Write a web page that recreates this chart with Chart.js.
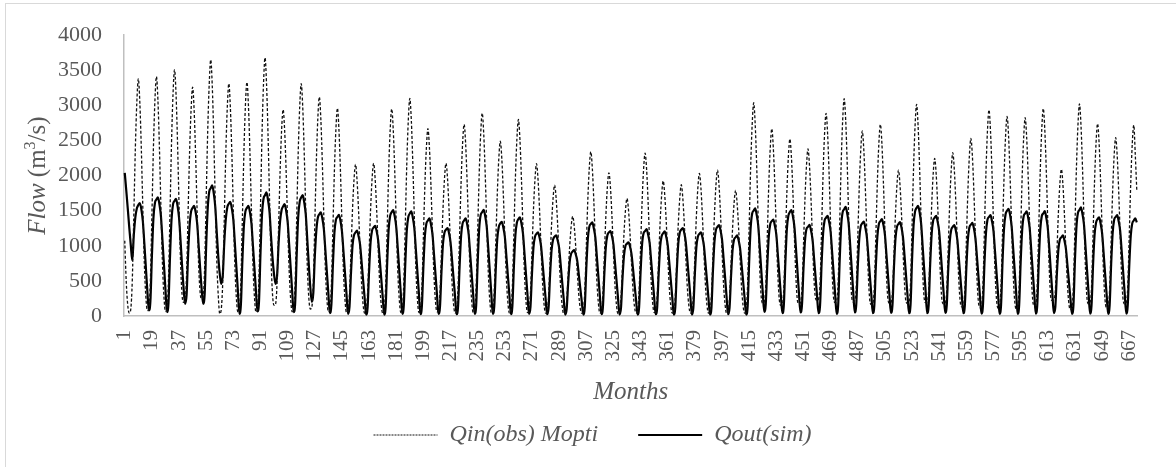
<!DOCTYPE html>
<html>
<head>
<meta charset="utf-8">
<title>Qin(obs) Mopti / Qout(sim)</title>
<script src="https://cdn.jsdelivr.net/npm/chart.js@4/dist/chart.umd.min.js"></script>
<style>
  html, body { margin: 0; padding: 0; background: #fff; overflow: hidden; }
  #wrap { position: relative; width: 1176px; height: 467px; }
  #frame { position: absolute; left: 5px; top: 3px; width: 1200px; height: 500px; border: 1px solid #d9d9d9; pointer-events: none; }
  canvas { position: absolute; left: 0; top: 0; }
</style>
</head>
<body>
<div id="wrap">
  <canvas id="flowChart" width="1176" height="467"></canvas>
  <div id="frame"></div>
</div>
<script>
// monthly flows (m3/s), one row per year, Jan..Dec
const qinObsMopti = [
  [1072,480,150,40,100,510,1420,2370,3040,3380,3040,2370],
  [1520,740,270,78,100,510,1430,2390,3070,3410,3070,2390],
  [1530,750,270,64,105,530,1470,2460,3160,3510,3160,2460],
  [1580,770,300,196,220,600,1480,2340,2950,3260,2930,2280],
  [1470,720,330,244,270,720,1680,2630,3300,3650,3290,2560],
  [1640,800,290,31,100,500,1390,2320,2980,3310,2980,2320],
  [1490,730,260,54,100,500,1400,2330,3000,3330,3000,2330],
  [1500,730,270,54,110,550,1550,2580,3310,3680,3310,2580],
  [1660,810,300,150,170,480,1260,2060,2650,2940,2650,2060],
  [1320,650,240,60,100,500,1390,2320,2980,3310,2980,2320],
  [1490,730,270,100,120,470,1310,2180,2810,3120,2810,2180],
  [1400,690,250,60,90,440,1240,2070,2660,2960,2660,2070],
  [1330,650,240,50,70,320,910,1510,1940,2160,1940,1510],
  [970,480,170,40,65,330,910,1520,1960,2175,1960,1520],
  [980,480,170,40,90,440,1240,2070,2660,2950,2660,2070],
  [1330,650,240,50,90,470,1300,2170,2790,3100,2790,2170],
  [1400,680,250,50,80,400,1120,1870,2400,2670,2400,1870],
  [1200,590,210,60,70,330,910,1520,1960,2175,1960,1520],
  [980,480,170,40,80,410,1150,1910,2460,2730,2460,1910],
  [1230,600,220,50,90,430,1210,2020,2600,2890,2600,2020],
  [1300,640,230,50,75,370,1050,1740,2240,2490,2240,1740],
  [1120,550,200,40,85,420,1180,1960,2520,2800,2520,1960],
  [1260,620,220,50,65,330,910,1520,1950,2170,1950,1520],
  [980,480,170,40,55,280,780,1310,1680,1865,1680,1310],
  [840,410,150,30,45,210,600,990,1280,1420,1280,990],
  [640,310,110,40,70,350,980,1640,2110,2340,2110,1640],
  [1050,510,190,40,60,310,860,1430,1840,2040,1840,1430],
  [920,450,160,30,50,250,700,1170,1510,1675,1510,1170],
  [750,370,130,40,70,350,970,1620,2090,2320,2090,1620],
  [1040,510,190,50,60,290,810,1350,1730,1925,1730,1350],
  [870,420,150,40,55,280,790,1310,1680,1870,1680,1310],
  [840,410,150,40,60,300,850,1420,1830,2030,1830,1420],
  [910,450,160,40,60,310,870,1450,1870,2077,1870,1450],
  [930,460,170,40,55,270,750,1250,1610,1790,1610,1250],
  [810,390,140,40,90,460,1280,2130,2730,3038,2730,2130],
  [1370,670,270,180,200,420,1120,1870,2400,2668,2400,1870],
  [1200,590,230,150,170,400,1060,1760,2270,2520,2270,1760],
  [1130,550,220,170,190,380,1000,1670,2140,2380,2140,1670],
  [1070,520,250,220,240,460,1210,2020,2600,2886,2600,2020],
  [1300,630,250,190,210,480,1300,2170,2790,3095,2790,2170],
  [1390,680,270,200,220,420,1110,1840,2370,2635,2370,1840],
  [1190,580,220,160,180,420,1150,1910,2460,2730,2460,1910],
  [1230,600,240,180,190,340,870,1450,1870,2077,1870,1450],
  [930,460,200,180,200,470,1270,2110,2710,3015,2710,2110],
  [1360,660,260,190,200,360,940,1570,2020,2245,2020,1570],
  [1010,490,200,170,180,370,980,1630,2090,2327,2090,1630],
  [1050,510,190,130,150,380,1060,1770,2280,2531,2280,1770],
  [1140,560,200,120,140,440,1230,2050,2640,2935,2640,2050],
  [1320,650,235,110,130,430,1190,1990,2560,2843,2560,1990],
  [1280,630,230,100,120,420,1190,1980,2540,2825,2540,1980],
  [1270,620,230,140,160,440,1240,2070,2660,2955,2660,2070],
  [1330,650,260,220,230,360,880,1460,1880,2090,1880,1460],
  [940,460,170,90,110,450,1270,2120,2720,3023,2720,2120],
  [1360,670,250,170,190,410,1150,1920,2470,2740,2470,1920],
  [1230,600,220,110,130,380,1070,1780,2290,2540,2290,1780],
  [1140,560,220,170,190,410,1140,1900,2450,2720,2300,1790]
];

const qoutSim = [
  [2040,1790,1530,1260,1010,790,1150,1400,1530,1580,1610,1520],
  [1350,1030,690,350,78,210,850,1390,1610,1660,1690,1590],
  [1420,1080,730,370,55,190,840,1370,1590,1640,1670,1570],
  [1400,1070,720,400,173,300,870,1290,1490,1540,1570,1480],
  [1320,1000,680,380,173,320,1010,1530,1770,1820,1860,1750],
  [1560,1190,850,600,457,580,1050,1380,1550,1600,1627,1530],
  [1370,1040,700,360,30,160,790,1290,1490,1540,1570,1480],
  [1320,1000,680,350,64,200,890,1440,1670,1720,1760,1650],
  [1480,1130,820,590,457,570,1030,1350,1510,1560,1593,1500],
  [1340,1020,690,350,55,190,870,1410,1630,1690,1721,1620],
  [1450,1100,740,420,200,320,840,1210,1400,1450,1475,1390],
  [1240,940,630,320,40,160,720,1180,1370,1410,1442,1360],
  [1210,920,620,320,30,130,610,1000,1150,1190,1215,1140],
  [1020,780,520,270,20,120,640,1050,1220,1260,1285,1210],
  [1080,820,550,280,20,140,750,1240,1430,1480,1508,1420],
  [1270,970,650,330,30,150,740,1220,1410,1460,1489,1400],
  [1250,950,640,330,25,140,700,1140,1320,1360,1390,1310],
  [1170,890,600,310,30,130,630,1030,1190,1230,1252,1180],
  [1050,800,540,280,25,140,700,1140,1320,1360,1390,1310],
  [1170,890,600,310,30,150,760,1240,1440,1480,1513,1420],
  [1270,970,650,330,30,140,670,1100,1270,1320,1342,1260],
  [1130,860,580,300,25,140,700,1150,1330,1380,1404,1320],
  [1180,900,600,310,30,130,600,980,1130,1170,1191,1120],
  [1000,760,510,260,25,120,580,940,1090,1130,1150,1080],
  [970,740,490,250,20,100,470,770,890,920,940,880],
  [790,600,400,210,20,130,670,1090,1270,1310,1333,1250],
  [1120,850,570,290,25,120,610,990,1150,1190,1210,1140],
  [1020,770,520,270,20,110,530,860,1000,1030,1050,990],
  [880,670,450,230,20,120,620,1020,1180,1210,1238,1160],
  [1040,790,530,270,25,120,600,990,1140,1180,1205,1130],
  [1010,770,520,270,20,120,630,1030,1190,1230,1252,1180],
  [1050,800,540,280,20,120,600,980,1130,1170,1190,1120],
  [1000,760,510,260,20,120,650,1060,1230,1270,1295,1220],
  [1090,830,560,280,25,120,570,940,1090,1120,1148,1080],
  [960,730,490,250,20,140,770,1260,1460,1500,1532,1440],
  [1290,980,660,340,60,170,710,1130,1310,1350,1375,1290],
  [1160,880,590,300,40,160,760,1240,1430,1480,1510,1420],
  [1270,970,650,330,50,150,670,1070,1240,1270,1300,1220],
  [1090,830,560,290,40,150,730,1170,1360,1400,1428,1340],
  [1200,910,610,310,30,150,780,1280,1480,1520,1555,1460],
  [1310,1000,670,340,50,160,690,1100,1280,1320,1345,1260],
  [1130,860,580,300,40,150,710,1130,1310,1350,1380,1300],
  [1160,880,590,300,45,150,690,1100,1270,1310,1338,1260],
  [1120,860,580,290,40,160,800,1290,1490,1540,1570,1480],
  [1320,1000,680,350,40,150,730,1170,1360,1400,1428,1340],
  [1200,910,610,310,45,150,670,1060,1230,1270,1295,1220],
  [1090,830,560,290,40,150,680,1090,1260,1300,1326,1250],
  [1110,850,570,290,35,150,740,1180,1370,1410,1437,1350],
  [1210,920,620,320,30,150,780,1250,1450,1500,1527,1440],
  [1280,980,660,340,30,150,760,1220,1420,1460,1492,1400],
  [1250,950,640,330,35,150,760,1230,1420,1460,1494,1400],
  [1250,960,640,330,40,130,590,940,1090,1120,1148,1080],
  [960,730,490,250,30,150,790,1270,1470,1510,1546,1450],
  [1300,990,660,340,35,150,720,1150,1330,1380,1404,1320],
  [1180,900,600,310,30,150,730,1180,1370,1410,1437,1350],
  [1210,920,620,320,35,150,710,1140,1320,1360,1390,1333]
];

const shownMonthTicks = [1,19,37,55,73,91,109,127,145,163,181,199,217,235,253,271,289,307,
  325,343,361,379,397,415,433,451,469,487,505,523,541,559,577,595,613,631,649,667];

const qinSeries = qinObsMopti.flat();
const qoutSeries = qoutSim.flat();
const months = qinSeries.map((v, i) => String(i + 1));

const textGray = '#595959';
const serif = '"Liberation Serif", "Times New Roman", serif';

const axisTitles = {
  id: 'axisTitles',
  afterDraw(chart) {
    const ctx = chart.ctx;
    const area = chart.chartArea;
    ctx.save();
    ctx.fillStyle = textGray;

    ctx.font = 'italic 25px ' + serif;
    ctx.textAlign = 'center';
    ctx.textBaseline = 'middle';
    ctx.fillText('Months', (area.left + area.right) / 2, 392);

    // y title: "Flow" italic, "(m3/s)" upright with superscript
    const parts = [
      { t: 'Flow', f: 'italic 25px ' + serif, dy: 0 },
      { t: ' (m', f: '25px ' + serif, dy: 0 },
      { t: '3', f: '16px ' + serif, dy: -10 },
      { t: '/s)', f: '25px ' + serif, dy: 0 }
    ];
    let total = 0;
    parts.forEach(p => { ctx.font = p.f; p.w = ctx.measureText(p.t).width; total += p.w; });
    ctx.translate(37, (area.top + area.bottom) / 2);
    ctx.rotate(-Math.PI / 2);
    ctx.textAlign = 'left';
    ctx.textBaseline = 'alphabetic';
    let x = -total / 2;
    parts.forEach(p => { ctx.font = p.f; ctx.fillText(p.t, x, 8 + p.dy); x += p.w; });
    ctx.restore();
  }
};

const defaultLegendLabels = Chart.defaults.plugins.legend.labels.generateLabels;

new Chart(document.getElementById('flowChart'), {
  type: 'line',
  data: {
    labels: months,
    datasets: [
      {
        label: 'Qin(obs) Mopti',
        data: qinSeries,
        borderColor: '#111',
        borderWidth: 1.3,
        borderDash: [3, 2],
        pointRadius: 0,
        tension: 0.3,
        cubicInterpolationMode: 'monotone',
        fill: false
      },
      {
        label: 'Qout(sim)',
        data: qoutSeries,
        borderColor: '#000',
        borderWidth: 2.2,
        pointRadius: 0,
        tension: 0.3,
        cubicInterpolationMode: 'monotone',
        fill: false
      }
    ]
  },
  options: {
    responsive: false,
    animation: false,
    devicePixelRatio: 1,
    layout: { padding: { left: 32, right: 23, top: 34, bottom: 10 } },
    plugins: {
      tooltip: { enabled: false },
      legend: {
        position: 'bottom',
        labels: {
          usePointStyle: true,
          pointStyle: 'line',
          pointStyleWidth: 64,
          padding: 40,
          color: textGray,
          font: { family: serif, size: 24, style: 'italic' },
          generateLabels: chart => defaultLegendLabels(chart).map(item => {
            const ds = chart.data.datasets[item.datasetIndex];
            return Object.assign(item, {
              lineDash: ds.borderDash ? [2, 1] : [],
              lineWidth: ds.borderDash ? 1 : ds.borderWidth,
              strokeStyle: ds.borderColor
            });
          })
        }
      }
    },
    scales: {
      x: {
        offset: true,
        grid: { display: false, drawTicks: false },
        border: { display: true, color: '#bfbfbf', width: 1.5 },
        ticks: {
          autoSkip: false,
          minRotation: 90,
          maxRotation: 90,
          padding: 14,
          color: textGray,
          font: { family: serif, size: 21 },
          callback: (value, index) => shownMonthTicks.includes(index + 1) ? months[index] : ''
        },
        afterFit: scale => { scale.height = 67; }
      },
      y: {
        min: 0,
        max: 4000,
        grid: { display: false, drawTicks: false },
        border: { display: true, color: '#bfbfbf', width: 1.5 },
        ticks: {
          stepSize: 500,
          padding: 22,
          color: textGray,
          font: { family: serif, size: 22 },
          callback: value => String(value)
        },
        afterFit: scale => { scale.width = 92; }
      }
    }
  },
  plugins: [axisTitles]
});
</script>
</body>
</html>
